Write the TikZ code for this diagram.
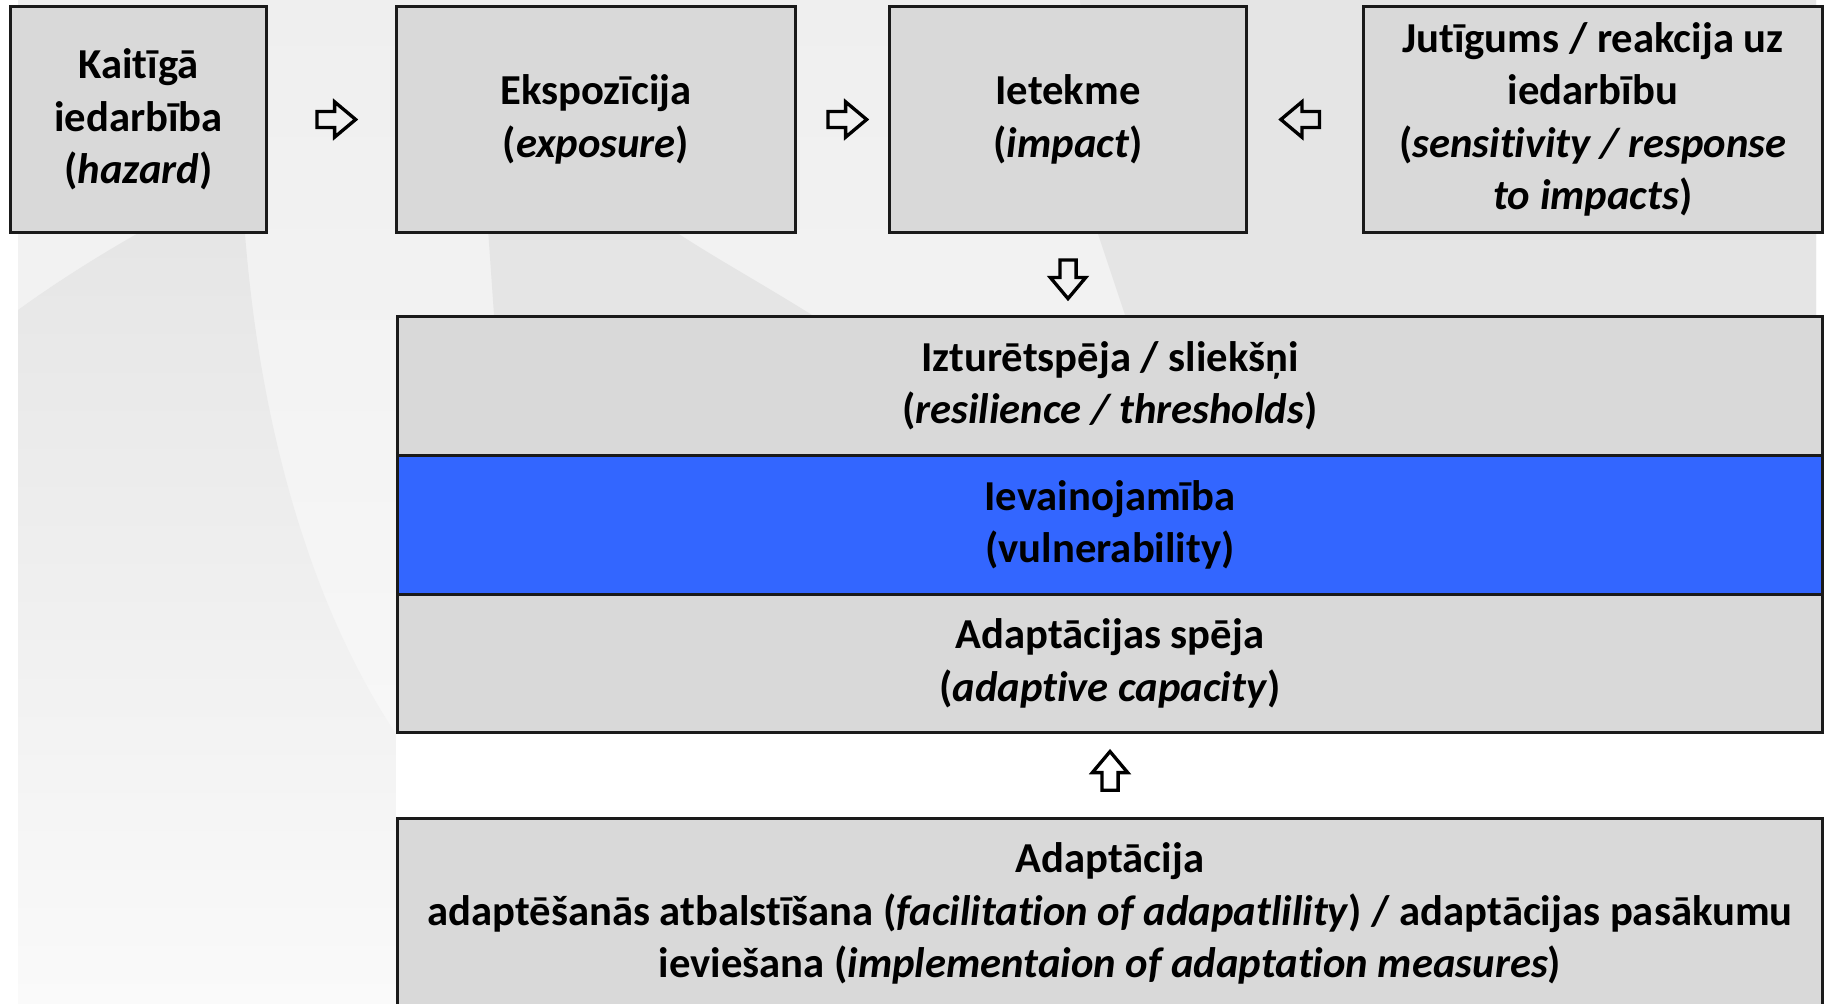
\documentclass[tikz,border=0pt]{standalone}
\usepackage{fontspec}
\setmainfont{Carlito}[Ligatures=NoCommon]
\usetikzlibrary{shapes.arrows,calc}
\definecolor{boxgray}{HTML}{D9D9D9}
\definecolor{vblue}{HTML}{3366FF}
\definecolor{bgA}{HTML}{EFEFEF}
\definecolor{bgB}{HTML}{FAFAFA}
\definecolor{bgD}{HTML}{E5E5E5}
\definecolor{edgec}{HTML}{1A1A1A}
\begin{document}
\begin{tikzpicture}[x=0.75pt,y=-0.75pt,
  box/.style={draw=edgec, line width=2.25pt, fill=boxgray, align=center, inner sep=0pt,
    font=\fontsize{32}{39.4}\selectfont\bfseries},
  barrow/.style={single arrow, draw=black, line width=2.5pt, inner sep=4.8pt,
    minimum width=0pt, minimum height=29pt, single arrow head extend=7.2pt,
    single arrow tip angle=80}]
\useasboundingbox (0,0) rectangle (1833,1003);
% background
\fill[white] (0,0) rectangle (1833,1003);
\shade[top color=bgA, bottom color=bgB] (18,0) rectangle (1816,1003);
\shade[top color=bgD, bottom color=bgB] (18,310) .. controls (80,265) and (150,225) .. (200,200)
  -- (245,200) -- (245,234) .. controls (262,450) and (320,620) .. (396,734)
  -- (396,1003) -- (18,1003) -- cycle;
\fill[bgD] (486,200) -- (494,315) -- (812,315) .. controls (740,270) and (690,245) .. (630,200) -- cycle;
\fill[bgD] (1080,0) -- (1098,234) -- (1125,315) -- (1816,315) -- (1816,0) -- cycle;
\fill[white] (396,734) rectangle (1833,1003);
% top row
\node[box, minimum width=192pt, minimum height=169.5pt] (k) at (138.5,119.5)
  {Kaitīgā\\iedarbība\\(\textit{hazard})};
\node[box, minimum width=299.25pt, minimum height=169.5pt] (e) at (596,119.5)
  {Ekspozīcija\\(\textit{exposure})};
\node[box, minimum width=267.75pt, minimum height=169.5pt] (i) at (1068,119.5)
  {Ietekme\\(\textit{impact})};
\node[box, minimum width=344.25pt, minimum height=169.5pt] (j) at (1593,119.5)
  {Jutīgums / reakcija uz\\iedarbību\\(\textit{sensitivity / response}\\\textit{to impacts})};
% middle stack
\node[box, minimum width=1068.75pt, minimum height=104pt] (s1) at (1110,385.75)
  {Izturētspēja / sliekšņi\\(\textit{resilience / thresholds})};
\node[box, fill=vblue, minimum width=1068.75pt, minimum height=104pt] (s2) at (1110,524.75)
  {Ievainojamība\\(vulnerability)};
\node[box, minimum width=1068.75pt, minimum height=104pt] (s3) at (1110,663.5)
  {Adaptācijas spēja\\(\textit{adaptive capacity})};
% bottom
\node[box, minimum width=1068.75pt, minimum height=142.5pt] (ad) at (1110,913.5)
  {Adaptācija\\adaptēšanās atbalstīšana (\textit{facilitation of adapatlility}) / adaptācijas pasākumu\\ieviešana (\textit{implementaion of adaptation measures})};
% arrows
\node[barrow] (a1) at ($(k.east)!0.5!(e.west)$) {};
\node[barrow] (a2) at ($(e.east)!0.5!(i.west)$) {};
\node[barrow, shape border rotate=180] (a3) at ($(i.east)!0.5!(j.west)$) {};
\node[barrow, shape border rotate=270] (a4) at ($(i.south)!0.5!(i.south |- s1.north)$) {};
\node[barrow, shape border rotate=90] (a5) at ($(s3.south)!0.5!(ad.north)$) {};
\end{tikzpicture}
\end{document}
